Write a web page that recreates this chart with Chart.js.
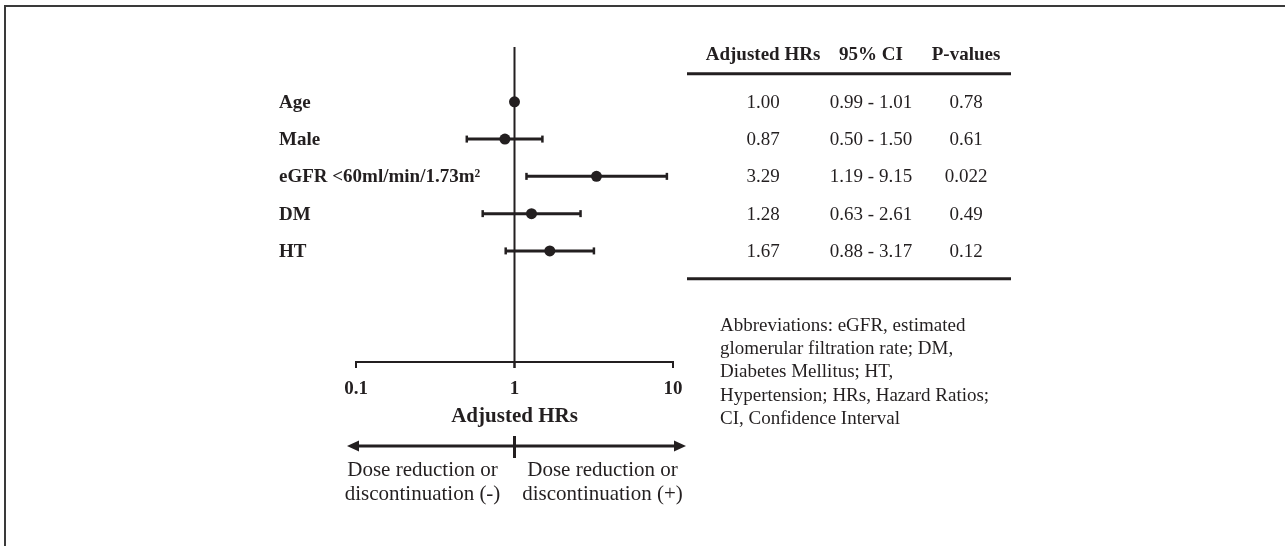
<!DOCTYPE html>
<html>
<head>
<meta charset="utf-8">
<title>Adjusted HRs forest plot</title>
<script src="https://cdn.jsdelivr.net/npm/chart.js@4.4.1/dist/chart.umd.min.js"></script>
<style>
  html, body { margin: 0; padding: 0; background: #fff; }
  #wrap { position: relative; width: 1285px; height: 546px; overflow: hidden; }
  #frame { position: absolute; left: 4px; top: 5px; right: -4px; bottom: -4px;
           border-top: 2px solid #3a3a3a; border-left: 2px solid #3a3a3a; }
  canvas { position: absolute; left: 0; top: 0; }
</style>
</head>
<body>
<div id="wrap">
  <div id="frame"></div>
  <canvas id="forest" width="1285" height="546"></canvas>
</div>
<script>
// Forest plot of adjusted hazard ratios with a side table.
// Data straight from the figure; everything is drawn off the chart scales.

const rowLabels = ["Age", "Male", "eGFR <60ml/min/1.73m²", "DM", "HT"];
const hrValues = [1.00, 0.87, 3.29, 1.28, 1.67];
const ciLow = [0.99, 0.50, 1.19, 0.63, 0.88];
const ciHigh = [1.01, 1.50, 9.15, 2.61, 3.17];
const pValues = ["0.78", "0.61", "0.022", "0.49", "0.12"];
const xTicks = [0.1, 1, 10];
const tableHeaders = ["Adjusted HRs", "95% CI", "P-values"];
const abbrevLines = [
  "Abbreviations: eGFR, estimated",
  "glomerular filtration rate; DM,",
  "Diabetes Mellitus; HT,",
  "Hypertension; HRs, Hazard Ratios;",
  "CI, Confidence Interval",
];

const INK = "#231f20";
const SERIF = '"Liberation Serif", "Times New Roman", serif';

function txt(ctx, s, x, y, size, bold, align) {
  ctx.font = `${bold ? "bold " : ""}${size}px ${SERIF}`;
  ctx.textAlign = align || "left";
  ctx.textBaseline = "middle";
  ctx.fillStyle = INK;
  ctx.fillText(s, x, y);
}

function line(ctx, x1, y1, x2, y2, w) {
  ctx.beginPath();
  ctx.lineWidth = w;
  ctx.strokeStyle = INK;
  ctx.moveTo(x1, y1);
  ctx.lineTo(x2, y2);
  ctx.stroke();
}

// ── error bars (under the dots) ───────────────────────────────────

const errorBars = {
  id: "errorBars",
  beforeDatasetsDraw(chart) {
    const { ctx, scales: { x, y } } = chart;
    ctx.save();
    ctx.lineCap = "butt";
    hrValues.forEach((_, i) => {
      const py = y.getPixelForValue(i);
      const x1 = x.getPixelForValue(ciLow[i]);
      const x2 = x.getPixelForValue(ciHigh[i]);
      line(ctx, x1, py, x2, py, 3);
      line(ctx, x1, py - 3.5, x1, py + 3.5, 2.5);
      line(ctx, x2, py - 3.5, x2, py + 3.5, 2.5);
    });
    ctx.restore();
  },
};

// ── axis, reference line, labels, table ───────────────────────────

const decorations = {
  id: "decorations",
  beforeDraw(chart) {
    const { ctx, chartArea: a, scales: { x, y } } = chart;
    ctx.save();
    const x1 = x.getPixelForValue(1);
    const xMin = x.getPixelForValue(xTicks[0]);
    const xMax = x.getPixelForValue(xTicks[xTicks.length - 1]);

    // reference line at HR = 1
    line(ctx, x1, a.top, x1, a.bottom + 6, 2);

    // x axis + ticks (pointing down)
    line(ctx, xMin - 1, a.bottom, xMax + 1, a.bottom, 2);
    xTicks.forEach((t) => {
      const px = x.getPixelForValue(t);
      line(ctx, px, a.bottom, px, a.bottom + 6, 2);
      txt(ctx, String(t), px, a.bottom + 27, 19, true, "center");
    });
    txt(ctx, "Adjusted HRs", x1, a.bottom + 55, 21, true, "center");

    // direction arrow
    const ay = a.bottom + 84;
    const left = xMin - 9, right = xMax + 13;
    line(ctx, left + 6, ay, right - 6, ay, 3);
    ctx.fillStyle = INK;
    ctx.beginPath();
    ctx.moveTo(left, ay); ctx.lineTo(left + 12, ay - 5.5); ctx.lineTo(left + 12, ay + 5.5);
    ctx.closePath(); ctx.fill();
    ctx.beginPath();
    ctx.moveTo(right, ay); ctx.lineTo(right - 12, ay - 5.5); ctx.lineTo(right - 12, ay + 5.5);
    ctx.closePath(); ctx.fill();
    line(ctx, x1, ay - 10, x1, ay + 12, 3);
    txt(ctx, "Dose reduction or", x1 - 92, ay + 24, 21, false, "center");
    txt(ctx, "discontinuation (-)", x1 - 92, ay + 48, 21, false, "center");
    txt(ctx, "Dose reduction or", x1 + 88, ay + 24, 21, false, "center");
    txt(ctx, "discontinuation (+)", x1 + 88, ay + 48, 21, false, "center");

    // row labels
    rowLabels.forEach((lab, i) => {
      txt(ctx, lab, 279, y.getPixelForValue(i) + 1, 19, true, "left");
    });

    // table
    const cols = [763, 871, 966];
    const headY = y.getPixelForValue(-1.26);
    tableHeaders.forEach((h, j) => txt(ctx, h, cols[j], headY, 19, true, "center"));
    line(ctx, 687, y.getPixelForValue(-0.75), 1011, y.getPixelForValue(-0.75), 3);
    line(ctx, 687, y.getPixelForValue(4.75), 1011, y.getPixelForValue(4.75), 3);
    hrValues.forEach((v, i) => {
      const py = y.getPixelForValue(i) + 1;
      txt(ctx, v.toFixed(2), cols[0], py, 19, false, "center");
      txt(ctx, `${ciLow[i].toFixed(2)} - ${ciHigh[i].toFixed(2)}`, cols[1], py, 19, false, "center");
      txt(ctx, pValues[i], cols[2], py, 19, false, "center");
    });

    // abbreviations
    abbrevLines.forEach((s, k) => txt(ctx, s, 720, 326 + k * 23.2, 19, false, "left"));
    ctx.restore();
  },
};

new Chart(document.getElementById("forest"), {
  type: "scatter",
  data: {
    datasets: [{
      label: "Adjusted HR",
      data: hrValues.map((v, i) => ({ x: v, y: i })),
      backgroundColor: INK,
      borderColor: INK,
      pointRadius: 5.5,
      pointBorderWidth: 0,
    }],
  },
  options: {
    responsive: false,
    animation: false,
    layout: { padding: { left: 356, right: 612, top: 47, bottom: 184 } },
    plugins: { legend: { display: false }, tooltip: { enabled: false } },
    scales: {
      x: { type: "logarithmic", min: 0.1, max: 10, display: false },
      y: { type: "linear", min: -1.47, max: 6.98, reverse: true, display: false },
    },
  },
  plugins: [errorBars, decorations],
});
</script>
</body>
</html>
